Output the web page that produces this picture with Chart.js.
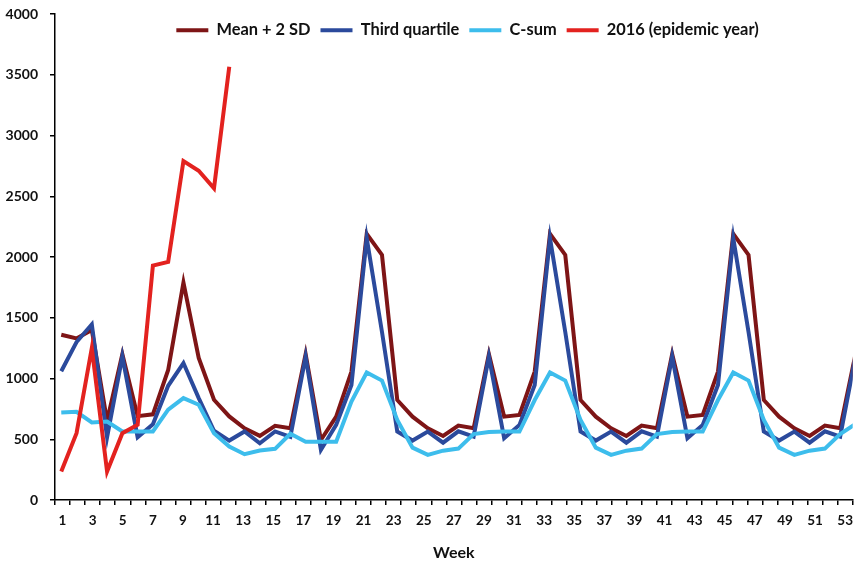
<!DOCTYPE html>
<html><head><meta charset="utf-8">
<script src="https://cdn.jsdelivr.net/npm/chart.js@4.4.1/dist/chart.umd.min.js"></script>
<style>html,body{margin:0;padding:0;background:#fff;overflow:hidden}canvas{display:block}</style>
</head><body><canvas id="c" width="861" height="562"></canvas>
<script>
const weeks = ["1","2","3","4","5","6","7","8","9","10","11","12","13","14","15","16","17","18","19","20","21","22","23","24","25","26","27","28","29","30","31","32","33","34","35","36","37","38","39","40","41","42","43","44","45","46","47","48","49","50","51","52","53"];
const meanPlus2SD = [1360,1330,1400,650,1200,690,705,1070,1790,1170,825,688,590,528,610,591,1200,494,686,1057,2190,2017,823,686,590,527,612,590,1200,686,700,1057,2190,2017,823,686,590,527,612,590,1200,686,700,1057,2190,2017,823,686,590,527,612,590,1200];
const thirdQuartile = [1060,1300,1445,517,1183,517,624,940,1127,839,570,489,564,467,564,520,1180,412,618,947,2155,1383,563,489,563,472,565,522,1180,508,618,947,2155,1383,563,489,563,472,565,522,1180,508,618,947,2155,1383,563,489,563,472,565,522,1180];
const cSum = [720,726,638,646,564,564,564,743,839,784,550,440,377,407,421,545,480,480,480,810,1049,983,659,431,371,406,423,543,560,563,563,823,1049,983,659,431,371,406,423,543,560,563,563,823,1049,983,659,431,371,406,423,543,625];
const epidemic2016 = [234,550,1251,234,550,619,1930,1960,2790,2710,2565,3565];
const yTicks = [0,500,1000,1500,2000,2500,3000,3500,4000];

const toPts = arr => arr.map((v, i) => ({x: Number(weeks[i]), y: v}));

Chart.defaults.font.family = 'Lato';
Chart.defaults.font.weight = 'bold';
Chart.defaults.color = '#111';

const legendOverlay = {
  id: 'legendOverlay',
  beforeLayout(chart) {
    const lg = chart.legend;
    if (lg && !lg._patched) {
      const fit = lg.fit.bind(lg);
      lg.fit = function () { fit(); this._realHeight = this.height; this.height = 0; };
      lg._patched = true;
    }
  },
  afterLayout(chart) {
    const lg = chart.legend;
    const dx = 37, dy = -2;
    lg.left += dx; lg.right += dx; lg.top += dy;
    lg.height = lg._realHeight; lg.bottom = lg.top + lg._realHeight;
  }
};

function ds(label, arr, color, order) {
  return {label, data: toPts(arr), borderColor: color, backgroundColor: color,
    borderWidth: 4, pointRadius: 0, tension: 0, xAxisID: 'x2', order, fill: false};
}

new Chart(document.getElementById('c'), {
  type: 'line',
  data: {
    labels: weeks,
    datasets: [
      ds('Mean + 2 SD', meanPlus2SD, '#7E1516', 4),
      ds('Third quartile', thirdQuartile, '#2B4A9C', 3),
      ds('C-sum', cSum, '#3DBDEC', 2),
      ds('2016 (epidemic year)', epidemic2016, '#E3221F', 1)
    ]
  },
  options: {
    responsive: false, animation: false, devicePixelRatio: 1,
    layout: {padding: {top: 14, right: 0, left: 0, bottom: 0}},
    plugins: {
      tooltip: {enabled: false},
      legend: {
        position: 'top', align: 'center',
        labels: {
          boxWidth: 32, boxHeight: 4, padding: 10, color: '#111',
          font: {size: 16.4, weight: 'bold', family: 'Lato'},
          sort: (a, b) => a.datasetIndex - b.datasetIndex,
          generateLabels(chart) {
            const items = Chart.defaults.plugins.legend.labels.generateLabels(chart);
            items.forEach(it => { it.lineWidth = 0; it.fillStyle = it.strokeStyle; });
            return items;
          }
        }
      }
    },
    scales: {
      x: {
        type: 'category', offset: true,
        grid: {display: true, offset: true, drawOnChartArea: false, color: '#000', lineWidth: 1.5, tickLength: 5},
        border: {display: true, color: '#000', width: 1.5},
        ticks: {autoSkip: false, maxRotation: 0, padding: 8, color: '#111',
          font: {size: 13.5, weight: 'bold'},
          callback: (v, i) => (i % 2 === 0 ? weeks[i] : '')},
        title: {display: true, text: 'Week', color: '#111', font: {size: 16, weight: 'bold'}, padding: {top: 0, bottom: 0}},
        afterFit(s) { s.height = 62; }
      },
      x2: {type: 'linear', display: false, min: 0.59, max: 52.82},
      y: {
        min: 0, max: 4000,
        afterBuildTicks(s) { s.ticks = yTicks.map(v => ({value: v})); },
        grid: {display: true, drawOnChartArea: false, color: '#000', lineWidth: 1.5, tickLength: 5},
        border: {display: true, color: '#000', width: 1.5},
        ticks: {padding: 12, color: '#111', font: {size: 14, weight: 'bold'}, callback: v => String(v)},
        afterFit(s) { s.width = 55; s.paddingTop = 0; s.paddingBottom = 0; }
      }
    }
  },
  plugins: [legendOverlay]
});
</script></body></html>
